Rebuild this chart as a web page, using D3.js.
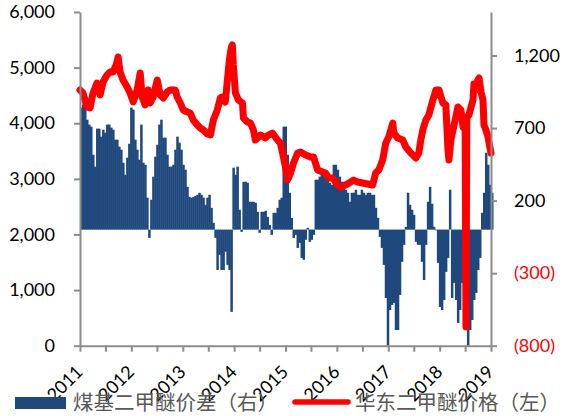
<!DOCTYPE html>
<html><head><meta charset="utf-8">
<script src="https://cdn.jsdelivr.net/npm/d3@7"></script>
<style>
html,body{margin:0;padding:0;background:#fff;}
svg{display:block;}
</style></head>
<body><svg id="c" width="563" height="416"></svg>
<script>
// ---------- data ----------
const yearLabels = ["2011","2012","2013","2014","2015","2016","2017","2018","2019"];
const leftTicks = [0,1000,2000,3000,4000,5000,6000];
const rightTicks = [-800,-300,200,700,1200];
const seriesNames = ["煤基二甲醚价差（右）","华东二甲醚价格（左）"];

// 煤基二甲醚价差 (right axis), evenly spaced from 2011-01 to 2019-01
const spreadValues = [
 841,862,882,758,724,710,516,434,696,696,641,689,668,724,724,703,689,620,620,572,
 551,461,378,496,592,841,827,620,551,482,724,461,447,220,-57,206,365,503,585,724,
 758,634,634,516,434,434,447,551,641,599,551,447,413,295,226,220,226,233,240,254,
 240,220,171,220,240,150,47,-57,-278,-174,-278,-278,-153,-243,-278,-567,427,378,434,137,
 -15,330,330,323,192,192,192,185,123,-22,123,123,130,88,33,-36,116,116,150,206,
 220,710,710,516,254,81,-57,-36,-126,-91,-195,-208,-70,12,-84,-70,-36,344,344,365,
 413,413,358,344,323,309,447,447,413,365,330,330,275,254,192,254,254,275,240,240,
 275,254,240,254,254,240,240,150,81,-50,-126,-243,-471,-800,-554,-519,-505,-692,-692,-450,
 -222,-105,19,254,171,137,102,-84,-105,-105,-222,-347,-105,192,295,178,19,-5,-229,-533,
 -554,-485,-291,-195,275,-471,-367,-485,-643,-554,-367,-208,-623,-800,-692,-623,-485,-436,-278,-195,
 116,254,530,447,309,254
];

// 华东二甲醚价格 (left axis)
const priceDates = [
 "2011-01-01","2011-01-22","2011-02-20","2011-03-13","2011-04-04","2011-05-02","2011-05-24","2011-06-14","2011-07-12","2011-08-03",
 "2011-08-24","2011-09-15","2011-09-29","2011-10-13","2011-11-03","2011-12-02","2011-12-23","2012-01-14","2012-02-11","2012-03-04",
 "2012-03-18","2012-04-08","2012-04-30","2012-05-14","2012-06-04","2012-07-03","2012-07-24","2012-08-15","2012-09-12","2012-10-03",
 "2012-11-08","2012-11-22","2012-12-14","2013-01-04","2013-02-02","2013-02-23","2013-03-16","2013-04-14","2013-05-05","2013-05-27",
 "2013-06-24","2013-07-16","2013-08-06","2013-09-03","2013-09-25","2013-10-09","2013-10-30","2013-11-14","2013-11-28","2013-12-12",
 "2013-12-19","2013-12-26","2014-01-10","2014-01-31","2014-03-01","2014-03-08","2014-04-05","2014-04-27","2014-05-18","2014-06-01",
 "2014-07-07","2014-08-11","2014-09-02","2014-09-30","2014-11-05","2014-11-26","2014-12-11","2015-01-01","2015-01-15","2015-02-06",
 "2015-02-27","2015-03-28","2015-04-18","2015-05-24","2015-06-28","2015-07-20","2015-08-17","2015-09-22","2015-10-13","2015-11-04",
 "2015-12-02","2016-01-07","2016-01-28","2016-03-04","2016-04-08","2016-04-30","2016-05-29","2016-07-03","2016-08-07","2016-09-12",
 "2016-10-03","2016-10-25","2016-11-22","2016-12-14","2017-01-04","2017-02-02","2017-02-09","2017-03-09","2017-04-14","2017-05-05",
 "2017-06-10","2017-07-16","2017-08-06","2017-08-20","2017-09-03","2017-09-25","2017-10-16","2017-11-14","2017-12-05","2017-12-27",
 "2018-01-24","2018-02-14","2018-03-01","2018-03-08","2018-03-22","2018-04-12","2018-05-11","2018-06-01","2018-06-16","2018-06-23",
 "2018-07-01","2018-07-07","2018-07-13","2018-07-28","2018-08-26","2018-09-02","2018-09-16","2018-09-30","2018-10-08","2018-10-22",
 "2018-11-05","2018-11-12","2018-11-26","2018-12-11","2018-12-18","2019-01-01"
];
const priceValues = [
 4597,4544,4292,4274,4544,4723,4508,4741,4867,4921,
 4921,5047,5191,4921,4777,4651,4544,4382,4597,4903,
 4472,4328,4597,4364,4472,4777,4508,4454,4562,4597,
 4597,4472,4364,4238,4202,4184,4058,3968,3914,3878,
 3806,3788,4058,4238,4454,4472,4382,4777,5137,5371,
 5407,5047,4544,4418,4364,4094,4022,4004,3878,3698,
 3788,3734,3788,3824,3698,3645,3465,3213,2979,3105,
 3285,3465,3483,3429,3393,3393,3159,3123,3105,3015,
 3015,2889,2853,2889,2943,2979,2943,2925,2907,2889,
 3105,3159,3339,3645,3752,4004,3824,3734,3698,3573,
 3465,3375,3465,3698,3878,4058,4148,4418,4597,4597,
 4364,4328,3519,3339,3698,3950,4292,4238,3932,4058,
 4000,336,4100,4148,4418,4705,4597,4777,4813,4562,
 4418,3968,3878,3752,3645,3465
];

// ---------- chart ----------
const plot = {left: 80, right: 491, top: 12, bottom: 345.7};
const barColor = "#1f497d", lineColor = "#ff0000", axisColor = "#8c8c8c";

const svg = d3.select("#c");
const parse = d3.timeParse("%Y-%m-%d");
const start = new Date(2011,0,1), end = new Date(2019,0,1);

const x = d3.scaleTime().domain([start, end]).range([plot.left, plot.right]);
const yL = d3.scaleLinear().domain([0, 6000]).range([plot.bottom, plot.top]);
const yR = d3.scaleLinear().domain([-800, 1500]).range([plot.bottom, plot.top]);

// bars
const n = spreadValues.length;
const barDates = d3.range(n).map(i => new Date(+start + i * (end - start) / (n - 1)));
const step = x(barDates[1]) - x(barDates[0]);
svg.append("g").selectAll("rect")
  .data(spreadValues)
  .join("rect")
  .attr("x", (d,i) => x(barDates[i]))
  .attr("width", step + 0.5)
  .attr("y", d => Math.min(yR(d), yR(0)))
  .attr("height", d => Math.abs(yR(d) - yR(0)))
  .attr("fill", barColor);

// line
const pts = priceDates.map((d,i) => ({date: parse(d), value: priceValues[i]}));
svg.append("path")
  .datum(pts)
  .attr("fill", "none")
  .attr("stroke", lineColor)
  .attr("stroke-width", 7)
  .attr("stroke-linejoin", "round")
  .attr("stroke-linecap", "round")
  .attr("d", d3.line().x(d => x(d.date)).y(d => yL(d.value)));

// axes
const fmt = d3.format(",");
const axisFont = "Lato, 'Liberation Sans', sans-serif";

const gL = svg.append("g").attr("transform", `translate(${plot.left},0)`)
  .call(d3.axisLeft(yL).tickValues(leftTicks).tickSize(6).tickSizeOuter(0).tickPadding(19).tickFormat(fmt));
const gR = svg.append("g").attr("transform", `translate(${plot.right},0)`)
  .call(d3.axisRight(yR).tickValues(rightTicks).tickSize(6).tickSizeOuter(0).tickPadding(17)
    .tickFormat(v => v < 0 ? "(" + fmt(-v) + ")" : fmt(v)));
const halfYears = d3.timeMonth.every(6).range(start, d3.timeDay.offset(end, 1));
const gB = svg.append("g").attr("transform", `translate(0,${plot.bottom})`)
  .call(d3.axisBottom(x).tickValues(halfYears).tickSize(6).tickSizeOuter(0).tickFormat(() => ""));

[gL, gR, gB].forEach(g => {
  g.select(".domain").attr("stroke", axisColor).attr("stroke-width", 2);
  g.selectAll(".tick line").attr("stroke", axisColor).attr("stroke-width", 2);
  g.selectAll("text").attr("font-family", axisFont).attr("font-size", 18).attr("fill", "#000");
});
gR.selectAll(".tick text").attr("fill", d => d < 0 ? "#ff0000" : "#000");

// rotated year labels
svg.append("g").selectAll("text")
  .data(yearLabels)
  .join("text")
  .attr("transform", d => `translate(${x(new Date(+d,0,1)) + 4},373) rotate(-45)`)
  .attr("text-anchor", "end")
  .attr("font-family", axisFont)
  .attr("font-size", 18)
  .attr("fill", "#000")
  .text(d => d);

// legend
const legFont = "'Noto Sans CJK SC', sans-serif";
const lg = svg.append("g");
lg.append("rect").attr("x", 15).attr("y", 397).attr("width", 51).attr("height", 12).attr("fill", barColor);
lg.append("text").attr("x", 73).attr("y", 410).attr("font-family", legFont).attr("font-size", 20.5)
  .attr("fill", "#595959").text(seriesNames[0]);
lg.append("line").attr("x1", 295).attr("x2", 348).attr("y1", 402).attr("y2", 402)
  .attr("stroke", lineColor).attr("stroke-width", 5.5).attr("stroke-linecap", "round");
lg.append("text").attr("x", 355).attr("y", 410).attr("font-family", legFont).attr("font-size", 20.5)
  .attr("fill", "#595959").text(seriesNames[1]);
</script>
</body></html>
